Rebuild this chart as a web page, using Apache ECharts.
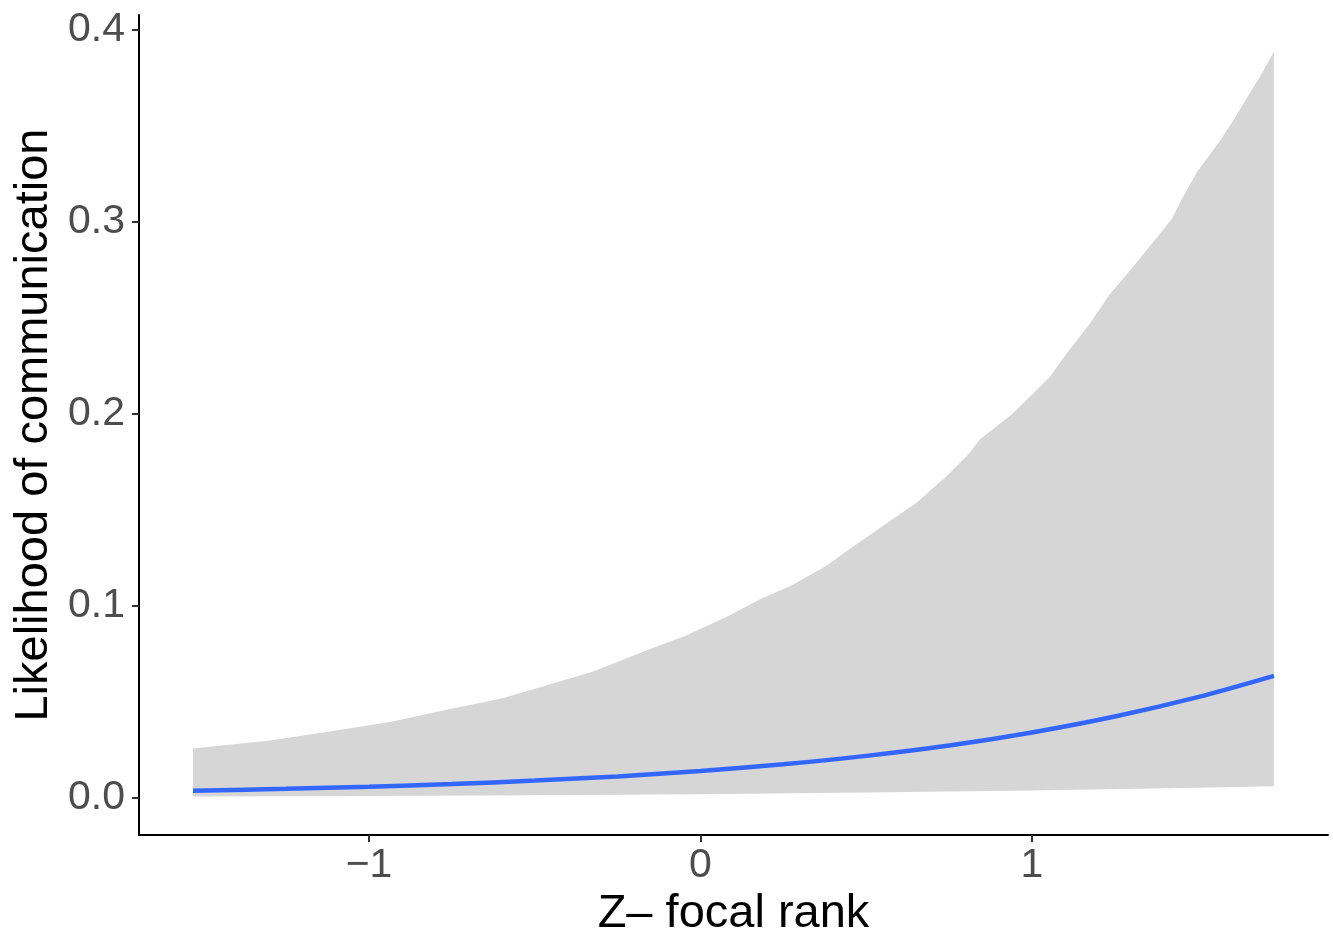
<!DOCTYPE html>
<html>
<head>
<meta charset="utf-8">
<script src="https://cdn.jsdelivr.net/npm/echarts@6/dist/echarts.min.js"></script>
<style>
  html, body { margin: 0; padding: 0; background: #ffffff; overflow: hidden; }
  #chart { width: 1333px; height: 943px; }
</style>
</head>
<body>
<div id="chart"></div>
<script>
// Fitted probability of communication against standardised focal rank
const fitX = [-1.531, -1.25, -1.0, -0.75, -0.5, -0.25, 0.0, 0.25, 0.5, 0.75, 1.0, 1.25, 1.5, 1.73];
const fitY = [0.0034, 0.0044, 0.0055, 0.0069, 0.0087, 0.0109, 0.0137, 0.0172, 0.0216, 0.0270, 0.0338, 0.0421, 0.0522, 0.0633];

// Upper edge of the confidence band
const upperX = [-1.531, -1.299, -1.109, -0.937, -0.766, -0.666, -0.597, -0.495, -0.326, -0.175, -0.042,
                0.087, 0.178, 0.277, 0.380, 0.449, 0.579, 0.651, 0.742, 0.811, 0.841, 0.941, 1.013,
                1.053, 1.103, 1.173, 1.233, 1.302, 1.375, 1.423, 1.453, 1.498, 1.571, 1.604, 1.695, 1.730];
const upperY = [0.0255, 0.0296, 0.0345, 0.0393, 0.0457, 0.0491, 0.0517, 0.0569, 0.0655, 0.0758, 0.0845,
                0.0948, 0.1031, 0.1107, 0.1207, 0.1293, 0.1449, 0.1534, 0.1673, 0.1793, 0.1862, 0.2000, 0.2121,
                0.2190, 0.2310, 0.2466, 0.2619, 0.2759, 0.2914, 0.3018, 0.3121, 0.3260, 0.3431, 0.3519, 0.3778, 0.3888];

// Lower edge of the confidence band
const lowerX = [-1.531, -1.0, -0.5, 0.0, 0.5, 1.0, 1.5, 1.730];
const lowerY = [0.0004, 0.0007, 0.0011, 0.0016, 0.0025, 0.0036, 0.0050, 0.0058];

// Axis ticks
const xTicks = [-1, 0, 1];
const yTicks = [0.0, 0.1, 0.2, 0.3, 0.4];

const zip = (xs, ys) => xs.map((x, i) => [x, ys[i]]);
const fitPts = zip(fitX, fitY);
const upperPts = zip(upperX, upperY);
const lowerPts = zip(lowerX, lowerY);

const FONT = '"Liberation Sans", Arial, Helvetica, sans-serif';

const chart = echarts.init(document.getElementById('chart'), null, { renderer: 'canvas' });

chart.setOption({
  animation: false,
  backgroundColor: '#ffffff',
  grid: { left: 139, right: 5, top: 15, bottom: 103, containLabel: false },
  xAxis: {
    type: 'value',
    min: -1.694,
    max: 1.893,
    name: 'Z\u2013 focal rank',
    nameLocation: 'middle',
    nameGap: 50,
    nameTextStyle: { fontFamily: FONT, fontSize: 47, color: '#000000' },
    axisLine: { show: true, onZero: false, lineStyle: { color: '#000000', width: 2 } },
    axisTick: { show: true, length: 7, lineStyle: { color: '#333333', width: 2 }, customValues: xTicks },
    axisLabel: {
      fontFamily: FONT, fontSize: 41, color: '#4D4D4D', margin: 10,
      customValues: xTicks,
      formatter: v => (v < 0 ? '\u2212' + Math.abs(v) : String(v))
    },
    splitLine: { show: false }
  },
  yAxis: {
    type: 'value',
    min: -0.0197,
    max: 0.4078,
    name: 'Likelihood of communication',
    nameLocation: 'middle',
    nameRotate: 90,
    nameGap: 80,
    nameTextStyle: { fontFamily: FONT, fontSize: 47, color: '#000000' },
    axisLine: { show: true, onZero: false, lineStyle: { color: '#000000', width: 2 } },
    axisTick: { show: true, length: 7, lineStyle: { color: '#333333', width: 2 }, customValues: yTicks },
    axisLabel: {
      fontFamily: FONT, fontSize: 41, color: '#4D4D4D', margin: 14,
      customValues: yTicks,
      formatter: v => v.toFixed(1)
    },
    splitLine: { show: false }
  },
  series: [
    {
      // confidence ribbon: upper edge forward, lower edge back
      type: 'custom',
      silent: true,
      z: 1,
      data: [[0, 0]],
      renderItem: (params, api) => {
        const top = upperPts.map(p => api.coord(p));
        const bottom = lowerPts.slice().reverse().map(p => api.coord(p));
        return {
          type: 'polygon',
          shape: { points: top.concat(bottom) },
          style: { fill: '#D6D6D6', stroke: null }
        };
      }
    },
    {
      type: 'line',
      z: 3,
      data: fitPts,
      smooth: 0.3,
      showSymbol: false,
      lineStyle: { color: '#3366FF', width: 4.5 }
    }
  ]
});
</script>
</body>
</html>
